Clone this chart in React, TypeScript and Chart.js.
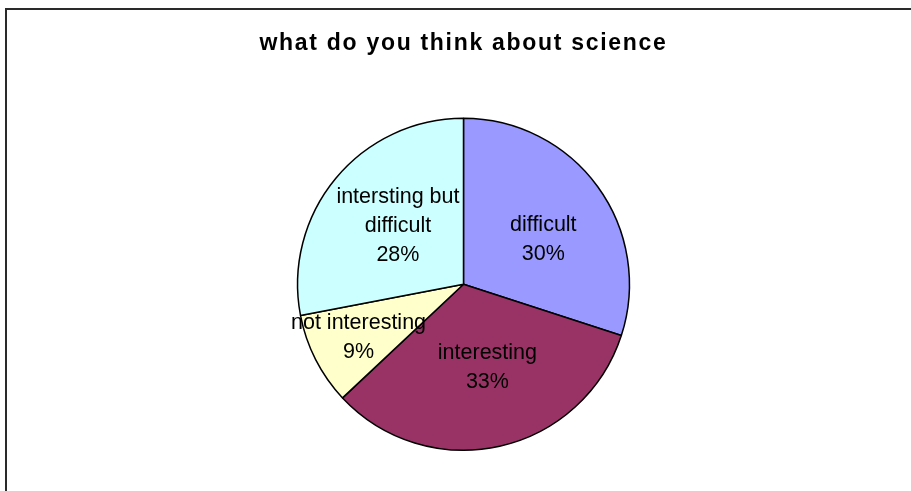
import React, { useEffect, useRef } from 'react';
import { Chart, registerables } from 'chart.js';

Chart.register(...registerables);

const titleText = 'what do you think about science';
const categories = ['difficult', 'interesting', 'not interesting', 'intersting but difficult'];
const values = [30, 33, 9, 28];
const sliceColors = ['#9999FF', '#993366', '#FFFFCC', '#CCFFFF'];
// label placement (fraction of radius, angular nudge in degrees)
const labelRadius = [0.55, 0.52, 0.71, 0.53];
const labelAngleShift = [7, -3.5, 0, 2.2];

const FONT = '"Liberation Sans", Arial, Helvetica, sans-serif';

function wrap(ctx: CanvasRenderingContext2D, text: string, maxW: number): string[] {
  const words = text.split(' ');
  const lines: string[] = [];
  let cur = '';
  for (const w of words) {
    const test = cur ? cur + ' ' + w : w;
    if (cur && ctx.measureText(test).width > maxW) {
      lines.push(cur);
      cur = w;
    } else {
      cur = test;
    }
  }
  if (cur) lines.push(cur);
  return lines;
}

const framePlugin = {
  id: 'frame',
  beforeDraw(chart: any) {
    const ctx = chart.ctx;
    ctx.save();
    ctx.strokeStyle = '#2a2a2a';
    ctx.lineWidth = 2;
    ctx.beginPath();
    ctx.moveTo(6, chart.height + 10);
    ctx.lineTo(6, 9);
    ctx.lineTo(chart.width + 10, 9);
    ctx.stroke();
    ctx.restore();
    (ctx as any).letterSpacing = '1.7px';
  },
  beforeDatasetsDraw(chart: any) {
    (chart.ctx as any).letterSpacing = '0px';
  },
};

const labelPlugin = {
  id: 'sliceLabels',
  afterDatasetsDraw(chart: any) {
    const ctx = chart.ctx as CanvasRenderingContext2D;
    const meta = chart.getDatasetMeta(0);
    const data = chart.data.datasets[0].data as number[];
    const total = data.reduce((a, b) => a + b, 0);
    ctx.save();
    (ctx as any).letterSpacing = '0px';
    ctx.font = `21.5px ${FONT}`;
    ctx.fillStyle = '#000';
    ctx.textAlign = 'center';
    ctx.textBaseline = 'middle';
    meta.data.forEach((arc: any, i: number) => {
      const p = arc.getProps(['x', 'y', 'startAngle', 'endAngle', 'outerRadius'], true);
      const mid = (p.startAngle + p.endAngle) / 2 + (labelAngleShift[i] * Math.PI) / 180;
      const r = p.outerRadius * labelRadius[i];
      const cx = p.x + Math.cos(mid) * r;
      const cy = p.y + Math.sin(mid) * r;
      const lines = wrap(ctx, String(chart.data.labels[i]), 140);
      lines.push(Math.round((data[i] / total) * 100) + '%');
      const lh = 29;
      lines.forEach((ln, j) => {
        ctx.fillText(ln, cx, cy + (j - (lines.length - 1) / 2) * lh);
      });
    });
    ctx.restore();
  },
};

export default function App() {
  const ref = useRef<HTMLCanvasElement | null>(null);
  useEffect(() => {
    if (!ref.current) return;
    const chart = new Chart(ref.current, {
      type: 'pie',
      data: {
        labels: categories,
        datasets: [
          {
            data: values,
            backgroundColor: sliceColors,
            borderColor: '#000000',
            borderWidth: 1.5,
          },
        ],
      },
      options: {
        responsive: false,
        animation: false,
        layout: { padding: { left: 21, right: 5, top: 0, bottom: 40 } },
        plugins: {
          legend: { display: false },
          tooltip: { enabled: false },
          title: {
            display: true,
            text: titleText,
            color: '#000000',
            font: { family: FONT, size: 23, weight: 'bold', lineHeight: 1.2 },
            padding: { top: 30, bottom: 60 },
          },
        },
      },
      plugins: [framePlugin, labelPlugin],
    });
    return () => chart.destroy();
  }, []);
  return (
    <div
      style={{
        position: 'fixed',
        left: 0,
        top: 0,
        width: 911,
        height: 491,
        overflow: 'hidden',
        background: '#ffffff',
      }}
    >
      <canvas ref={ref} width={911} height={491} style={{ display: 'block' }} />
    </div>
  );
}
